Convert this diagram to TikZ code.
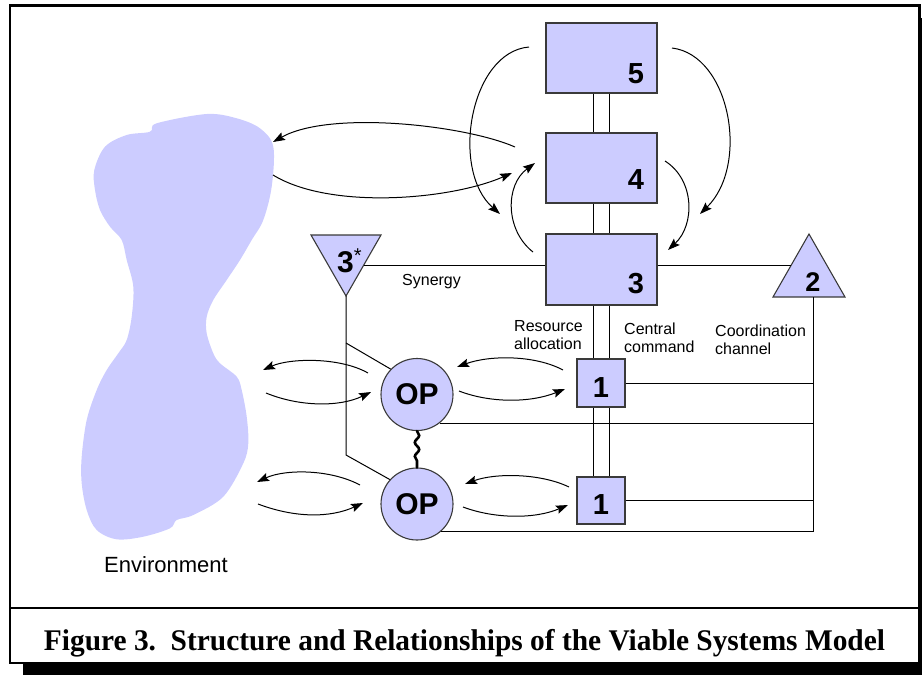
\documentclass[tikz,border=0pt]{standalone}
\usepackage{graphicx}
\usepackage{fontspec}
\setmainfont{Liberation Sans}
\newfontfamily\capfont{Liberation Serif}
\usetikzlibrary{arrows.meta,decorations.pathmorphing}
\definecolor{vsmfill}{HTML}{CCCCFF}
\definecolor{vsmedge}{HTML}{3A3A3A}
\begin{document}
\begin{tikzpicture}[x=1pt,y=-1pt,
  sysbox/.style={draw=vsmedge, fill=vsmfill, line width=1.1pt, inner sep=0pt},
  opcirc/.style={circle, draw=vsmedge, fill=vsmfill, line width=1.1pt, minimum size=72pt, inner sep=0pt, font=\fontsize{30}{30}\selectfont\bfseries},
  tri/.style={draw=vsmedge, fill=vsmfill, line width=1.1pt, line join=miter},
  num/.style={font=\fontsize{29}{29}\selectfont\bfseries, inner sep=0pt},
  lbl/.style={font=\fontsize{16}{18}\selectfont, align=left, inner sep=0pt, anchor=north west},
  conn/.style={line width=1pt},
  arr/.style={line width=1pt, -{Stealth[length=12pt,width=8.5pt,inset=2pt]}},
]
\useasboundingbox (0,0) rectangle (922,675);
% frame and shadow
\fill[black] (23,664) rectangle (922,675);
\fill[black] (920,18) rectangle (922,675);
\draw[line width=2.2pt] (10,5.5) rectangle (919.5,663);
\draw[line width=2.2pt] (10,608) -- (919.5,608);
\node[font=\capfont\bfseries\fontsize{30}{30}\selectfont, anchor=base, inner sep=0pt] (cap) at (464.5,650)
  {\resizebox{841pt}{\height}{Figure 3.\ \ Structure and Relationships of the Viable Systems Model}};

% environment blob
\fill[vsmfill] plot[smooth cycle, tension=0.55] coordinates {
 (156.7,123.3) (206.7,114) (236.7,118.3) (260,128.3) (273.3,146.7) (271.7,186.7)
 (263.3,220) (251.7,240) (240,260) (226.7,280) (213.3,300) (206.7,316.7) (206.7,333.3)
 (213.3,353.3) (220,363.3) (236.7,376.7) (241.7,390) (246.7,416.7) (248.3,443.3)
 (243.3,463.3) (223.3,496.7) (193.3,515) (176.7,520) (170,528.3) (143.3,536.7)
 (116.7,539.3) (96.7,530) (86.7,510) (81.7,483.3) (81.7,456.7) (86.7,420) (96.7,390)
 (106.7,370) (118.3,353.3) (126.7,340) (131.7,316.7) (133.3,286.7) (126.7,260)
 (121.7,240) (110,226.7) (100,210) (95,190) (94.3,170) (105,146.7) (126.7,135) (150,131.7)};
\node[font=\fontsize{22}{22}\selectfont, anchor=base, inner sep=0pt] (env) at (166,572) {Environment};

% coordinates
\coordinate (t3b) at (346,296);
\coordinate (syn) at (364,265);
\coordinate (t2l) at (791,265);
\coordinate (t2b) at (813,297);
\coordinate (j1) at (346,343);
\coordinate (j2) at (346,455);

% upper boxes
\path (601.5,58) node[sysbox, minimum width=111pt, minimum height=70pt] (box5) {}
      (601.5,168) node[sysbox, minimum width=111pt, minimum height=70pt] (box4) {}
      (601.5,269.5) node[sysbox, minimum width=111pt, minimum height=71pt] (box3) {};

% double vertical channel
\draw[conn] ([xshift=-8pt]box5.south) -- ([xshift=-8pt]box4.north);
\draw[conn] ([xshift=8pt]box5.south) -- ([xshift=8pt]box4.north);
\draw[conn] ([xshift=-8pt]box4.south) -- ([xshift=-8pt]box3.north);
\draw[conn] ([xshift=8pt]box4.south) -- ([xshift=8pt]box3.north);
\coordinate (b1top) at (601,477);
\draw[conn] ([xshift=-8pt]box3.south) -- ([xshift=-8pt]box3.south |- b1top);
\draw[conn] ([xshift=8pt]box3.south) -- ([xshift=8pt]box3.south |- b1top);

% operational units
\node[opcirc] (op1) at (417,394.5) {OP};
\node[opcirc] (op2) at (417,504) {OP};
\node[sysbox, minimum width=48pt, minimum height=48pt] (box1a) at (601,383) {};
\node[sysbox, minimum width=48pt, minimum height=47pt] (box1b) at (601,500.5) {};

% triangles
\draw[tri] (311,235) -- (381,235) -- (t3b) -- cycle;
\draw[tri] (809,234) -- (845,297) -- (773,297) -- cycle;

% synergy and coordination lines
\draw[conn] (syn) -- (syn -| box3.west);
\draw[conn] (syn -| box3.east) -- (t2l);
\draw[conn] (t3b) -- (j2) -- (op2.138);
\draw[conn] (j1) -- (op1.136);
\draw[conn] (box1a.east) -- (box1a.east -| t2b);
\draw[conn] (op1.-52) -- (op1.-52 -| t2b);
\draw[conn] (box1b.east) -- (box1b.east -| t2b);
\draw[conn] (op2.-49) -- (op2.-49 -| t2b);
\draw[conn] (t2b) -- (t2b |- op2.-49);
\draw[line width=2.6pt, line cap=round, decorate, decoration={snake, amplitude=2.2pt, segment length=14pt}] (op1.south) -- (op2.north);

% numerals
\node[num] at (636,74) {5};
\node[num] at (636,180) {4};
\node[num] at (636,283.5) {3};
\node[num] at (601,388) {1};
\node[num] at (601,505) {1};
\node[font=\fontsize{27}{27}\selectfont\bfseries, inner sep=0pt] (n2) at (813,282.5) {2};
\node[font=\fontsize{30}{30}\selectfont\bfseries, inner sep=0pt, anchor=base west] (n3s) at (337,272)
  {3\raisebox{10pt}{\fontsize{20}{20}\selectfont\mdseries *}};

% labels
\node[font=\fontsize{16}{16}\selectfont, anchor=base west, inner sep=0pt] (lsyn) at (402,285) {Synergy};
\node[lbl] (lres) at (514,320) {Resource\\allocation};
\node[lbl] (lcen) at (624,322.5) {Central\\command};
\node[lbl] (lcoo) at (715,325) {Coordination\\channel};

% arrow end coordinates
\coordinate (a1s) at (529,47);   \coordinate (a1e) at (500,214);
\coordinate (a2s) at (672,48);   \coordinate (a2e) at (700,214);
\coordinate (a3s) at (533,252);  \coordinate (a3e) at (535,163);
\coordinate (a4s) at (665,161);  \coordinate (a4e) at (668,250);
\coordinate (e1s) at (515,147);  \coordinate (e1e) at (273,142);
\coordinate (e2s) at (273,175);  \coordinate (e2e) at (512,173);
\coordinate (o1s) at (368,373);  \coordinate (o1e) at (263,370);
\coordinate (o2s) at (266,393);  \coordinate (o2e) at (371,392);
\coordinate (o3s) at (360,485);  \coordinate (o3e) at (257,482);
\coordinate (o4s) at (258,504);  \coordinate (o4e) at (363,503);
\coordinate (p1s) at (563,370);  \coordinate (p1e) at (457,367);
\coordinate (p2s) at (459,391);  \coordinate (p2e) at (565,389);
\coordinate (p3s) at (569,487);  \coordinate (p3e) at (465,484);
\coordinate (p4s) at (463,507);  \coordinate (p4e) at (568,505);

% arrows
\draw[arr] (a1s) .. controls (470,52) and (450,170) .. (a1e);
\draw[arr] (a2s) .. controls (730,55) and (750,165) .. (a2e);
\draw[arr] (a3s) .. controls (505,230) and (505,185) .. (a3e);
\draw[arr] (a4s) .. controls (695,180) and (695,225) .. (a4e);
\draw[arr] (e1s) .. controls (465,125) and (330,110) .. (e1e);
\draw[arr] (e2s) .. controls (330,210) and (450,200) .. (e2e);
\draw[arr] (o1s) .. controls (340,357) and (290,358) .. (o1e);
\draw[arr] (o2s) .. controls (300,407) and (340,407) .. (o2e);
\draw[arr] (o3s) .. controls (330,469) and (285,469) .. (o3e);
\draw[arr] (o4s) .. controls (295,518) and (330,518) .. (o4e);
\draw[arr] (p1s) .. controls (535,355) and (490,355) .. (p1e);
\draw[arr] (p2s) .. controls (490,403) and (530,403) .. (p2e);
\draw[arr] (p3s) .. controls (540,473) and (495,473) .. (p3e);
\draw[arr] (p4s) .. controls (495,519) and (535,519) .. (p4e);
\end{tikzpicture}
\end{document}
